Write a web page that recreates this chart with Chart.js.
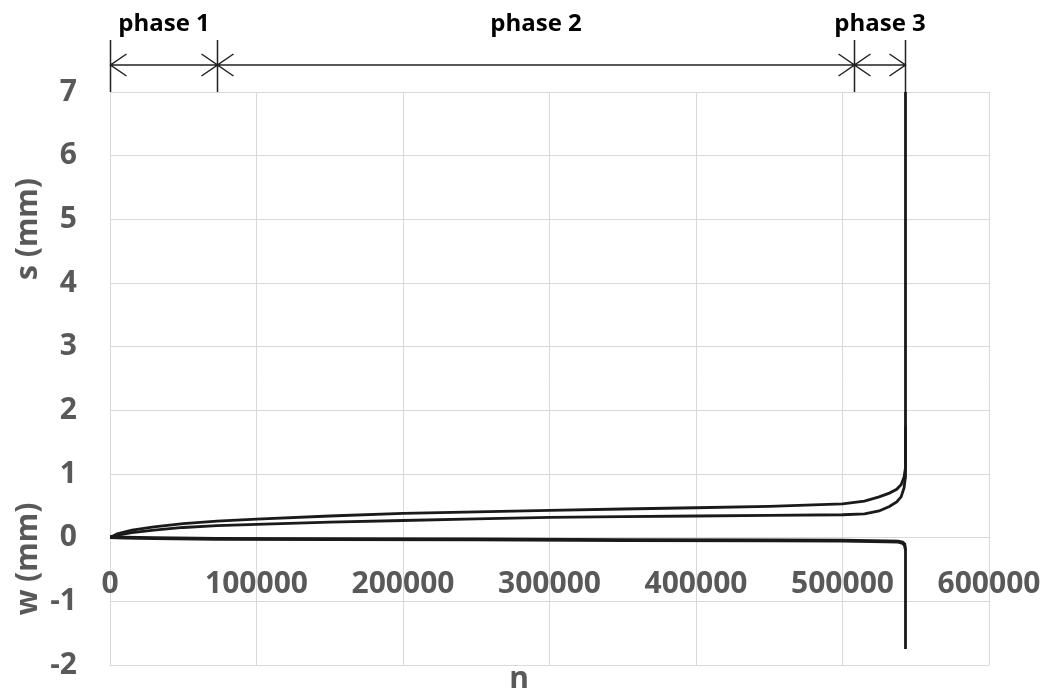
<!DOCTYPE html>
<html>
<head>
<meta charset="utf-8">
<script src="https://cdn.jsdelivr.net/npm/chart.js@4"></script>
<style>
  html, body { margin: 0; padding: 0; background: #fff; }
  canvas { display: block; }
</style>
</head>
<body>
<canvas id="chart" width="1046" height="690"></canvas>
<script>
// cycle counts (n) for the settlement curves
const sN = [0, 5000, 15000, 30000, 50000, 73000, 100000, 150000, 200000, 250000, 300000,
  350000, 400000, 450000, 500000, 515000, 525000, 532000, 537000, 540000, 542000, 543000, 543000];
// s, first gauge (mm) - runs off the top at failure
const sUpper = [0, 0.06, 0.12, 0.17, 0.22, 0.26, 0.29, 0.34, 0.38, 0.405, 0.43,
  0.45, 0.47, 0.49, 0.53, 0.575, 0.64, 0.70, 0.76, 0.83, 0.95, 1.10, 7.0];
// s, second gauge (mm)
const sLower = [0, 0.04, 0.08, 0.12, 0.16, 0.19, 0.21, 0.245, 0.27, 0.295, 0.32,
  0.33, 0.34, 0.35, 0.36, 0.375, 0.42, 0.49, 0.56, 0.64, 0.78, 0.96, 1.75];

// cycle counts for the w curves
const wN1 = [0, 10000, 30000, 73000, 150000, 250000, 350000, 450000, 500000, 530000, 538000, 541000, 542500, 543000, 543000];
const wA = [0.02, 0.01, 0, -0.01, -0.015, -0.02, -0.03, -0.035, -0.04, -0.05, -0.055, -0.07, -0.1, -0.2, -1.75];
const wN2 = [0, 10000, 30000, 73000, 150000, 250000, 350000, 450000, 500000, 530000, 538000, 541000, 542500, 543000];
const wB = [0, -0.005, -0.015, -0.025, -0.03, -0.035, -0.045, -0.05, -0.055, -0.065, -0.07, -0.09, -0.13, -0.2];

// phase boundaries along n
const phaseBounds = [0, 73000, 508000, 543000];
const phaseNames = ['phase 1', 'phase 2', 'phase 3'];

const xTicks = [0, 100000, 200000, 300000, 400000, 500000, 600000];
const yTicks = [-2, -1, 0, 1, 2, 3, 4, 5, 6, 7];

const GREY = '#595959';
const INK = '#1a1a1a';
const FONT = '"Open Sans", "Liberation Sans", sans-serif';

function pairs(xs, ys) {
  return xs.map((x, i) => ({ x: x, y: ys[i] }));
}

function line(data) {
  return {
    data: data,
    borderColor: INK,
    borderWidth: 2.8,
    pointRadius: 0,
    fill: false,
    tension: 0
  };
}

// scale paddings would otherwise push the plot area in
function noPadding(scale) {
  scale.paddingLeft = 0;
  scale.paddingRight = 0;
  scale.paddingTop = 0;
  scale.paddingBottom = 0;
}

// axis titles and the phase brackets above the plot
const decorations = {
  id: 'decorations',
  afterDraw(chart) {
    const { ctx, chartArea, scales } = chart;
    const x = scales.x;
    ctx.save();

    ctx.fillStyle = GREY;
    ctx.font = 'bold 30px ' + FONT;
    ctx.textAlign = 'center';
    ctx.textBaseline = 'middle';
    ctx.save();
    ctx.translate(28, 229);
    ctx.rotate(-Math.PI / 2);
    ctx.fillText('s (mm)', 0, 0);
    ctx.restore();
    ctx.save();
    ctx.translate(28, 559);
    ctx.rotate(-Math.PI / 2);
    ctx.fillText('w (mm)', 0, 0);
    ctx.restore();
    ctx.fillText('n', 519, 679);

    // brackets
    const barY = 65;
    ctx.strokeStyle = '#222';
    ctx.lineWidth = 1.5;
    const px = phaseBounds.map(v => Math.round(x.getPixelForValue(v)) + 0.5);
    ctx.beginPath();
    ctx.moveTo(px[0], barY);
    ctx.lineTo(px[px.length - 1], barY);
    px.forEach(p => {
      ctx.moveTo(p, 40);
      ctx.lineTo(p, chartArea.top);
    });
    for (let i = 0; i < px.length - 1; i++) {
      const a = px[i], b = px[i + 1];
      ctx.moveTo(a + 16, barY - 11); ctx.lineTo(a, barY); ctx.lineTo(a + 16, barY + 11);
      ctx.moveTo(b - 16, barY - 11); ctx.lineTo(b, barY); ctx.lineTo(b - 16, barY + 11);
    }
    ctx.stroke();

    ctx.fillStyle = '#000';
    ctx.font = 'bold 24px ' + FONT;
    ctx.textBaseline = 'alphabetic';
    for (let i = 0; i < phaseNames.length; i++) {
      const mid = (px[i] + px[i + 1]) / 2;
      ctx.fillText(phaseNames[i], mid, 31);
    }
    ctx.restore();
  }
};

new Chart(document.getElementById('chart'), {
  type: 'line',
  data: {
    datasets: [
      line(pairs(wN2, wB)),
      line(pairs(wN1, wA)),
      line(pairs(sN, sLower)),
      line(pairs(sN, sUpper))
    ]
  },
  options: {
    responsive: false,
    animation: false,
    layout: { padding: { top: 92, right: 57, bottom: 25, left: 0 } },
    plugins: { legend: { display: false }, tooltip: { enabled: false } },
    scales: {
      x: {
        type: 'linear',
        position: { y: 0 },
        min: 0,
        max: 600000,
        afterBuildTicks: (scale) => { scale.ticks = xTicks.map(v => ({ value: v })); },
        afterFit: (scale) => {
          scale.height = 0;
          noPadding(scale);
        },
        grid: { color: '#d9d9d9', lineWidth: 1, drawTicks: false },
        border: { display: false },
        ticks: {
          color: GREY,
          font: { family: FONT, size: 30, weight: 'bold' },
          padding: 29,
          maxRotation: 0,
          callback: (v) => String(v)
        }
      },
      y: {
        type: 'linear',
        position: 'left',
        min: -2,
        max: 7,
        afterBuildTicks: (scale) => { scale.ticks = yTicks.map(v => ({ value: v })); },
        afterFit: (scale) => {
          scale.width = 110;
          noPadding(scale);
        },
        grid: { color: '#d9d9d9', lineWidth: 1, drawTicks: false },
        border: { display: false },
        ticks: {
          color: GREY,
          font: { family: FONT, size: 30, weight: 'bold' },
          padding: 33,
          callback: (v) => String(v)
        }
      }
    }
  },
  plugins: [decorations]
});
</script>
</body>
</html>
